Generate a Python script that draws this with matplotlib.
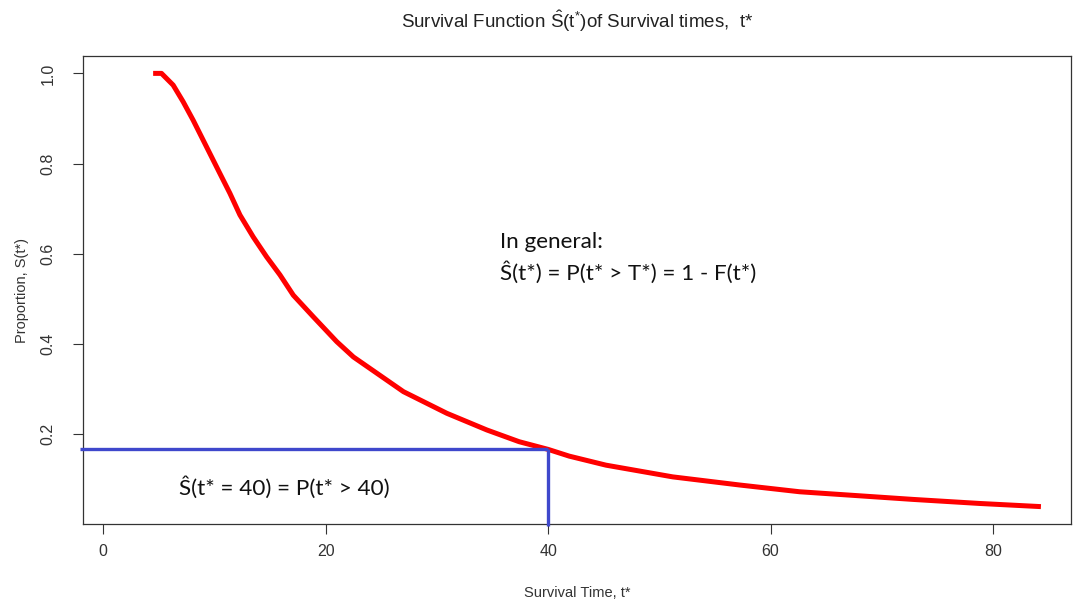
import matplotlib
matplotlib.use("Agg")
import matplotlib.pyplot as plt

plt.rcParams["font.family"] = ["Liberation Sans", "DejaVu Sans"]
plt.rcParams["mathtext.fontset"] = "custom"
plt.rcParams["mathtext.rm"] = "Liberation Sans"
plt.rcParams["mathtext.it"] = "Liberation Sans"

# Estimated survival curve S(t*)
t_vals = [4.5, 5.25, 6.3, 7.2, 8.1, 9.3, 10.5, 11.4, 12.3, 13.5, 14.7, 15.9,
          17.1, 18.9, 21.0, 22.5, 27.0, 30.9, 34.5, 37.4, 40.0, 41.9, 45.2,
          51.2, 57.2, 62.6, 66.8, 72.8, 78.8, 84.3]
s_vals = [1.0, 1.0, 0.974, 0.937, 0.896, 0.837, 0.778, 0.734, 0.686, 0.637,
          0.593, 0.553, 0.508, 0.460, 0.405, 0.371, 0.294, 0.246, 0.209,
          0.183, 0.166, 0.151, 0.131, 0.105, 0.087, 0.072, 0.065, 0.055,
          0.046, 0.039]

# Highlighted time point and its survival probability
t_mark = 40
s_mark = 0.166

x_ticks = [0, 20, 40, 60, 80]
y_ticks = [0.2, 0.4, 0.6, 0.8, 1.0]

fig = plt.figure(figsize=(10.73, 6.07), dpi=100)
ax = fig.add_axes([0.0774, 0.1364, 0.9207, 0.7713])
xlim = (-1.8, 87.0)
ylim = (0.0, 1.0385)
ax.set_xlim(*xlim)
ax.set_ylim(*ylim)

ax.plot(t_vals, s_vals, color="#ff0000", lw=3.6, solid_capstyle="butt",
        solid_joinstyle="round", zorder=3)

blue = "#3f48cc"
ax.plot([xlim[0] - 0.3, t_mark], [s_mark, s_mark], color=blue, lw=2.4,
        clip_on=False, zorder=4, solid_capstyle="butt")
ax.plot([t_mark, t_mark], [s_mark, ylim[0] - 0.005], color=blue, lw=2.4,
        clip_on=False, zorder=4, solid_capstyle="butt")

ax.set_xticks(x_ticks)
ax.set_xticklabels([str(v) for v in x_ticks])
ax.set_yticks(y_ticks)
ax.set_yticklabels([f"{v:.1f}" for v in y_ticks], rotation=90, va="center")
ax.tick_params(axis="both", length=7, width=0.8, color="#333333",
               labelcolor="#333333", labelsize=11.5)
ax.tick_params(axis="x", pad=7)
ax.tick_params(axis="y", pad=13)
for sp in ax.spines.values():
    sp.set_color("#333333")
    sp.set_linewidth(0.9)

ax.set_xlabel("Survival Time, t*", fontsize=10.5, color="#333333", labelpad=20)
ax.set_ylabel("Proportion, S(t*)", fontsize=10.5, color="#333333", labelpad=8)

fig.text(0.538, 0.966,
         r"Survival Function $\hat{\mathrm{S}}(\mathrm{t}^{*})$of Survival times,  t*",
         ha="center", va="center", fontsize=13.5, color="#222222")

ann_font = ["Lato", "DejaVu Sans"]
ax.text(35.7, 0.625, "In general:", fontsize=16.2, family=ann_font,
        ha="left", va="center", color="#111111")
ax.text(35.7, 0.559, "Ŝ(t*) = P(t* > T*) = 1 - F(t*)", fontsize=16.2,
        family=ann_font, ha="left", va="center", color="#111111")
ax.text(6.8, 0.082, "Ŝ(t* = 40) = P(t* > 40)", fontsize=16.2, family=ann_font,
        ha="left", va="center", color="#111111")

fig.savefig("out.png", dpi=100)
